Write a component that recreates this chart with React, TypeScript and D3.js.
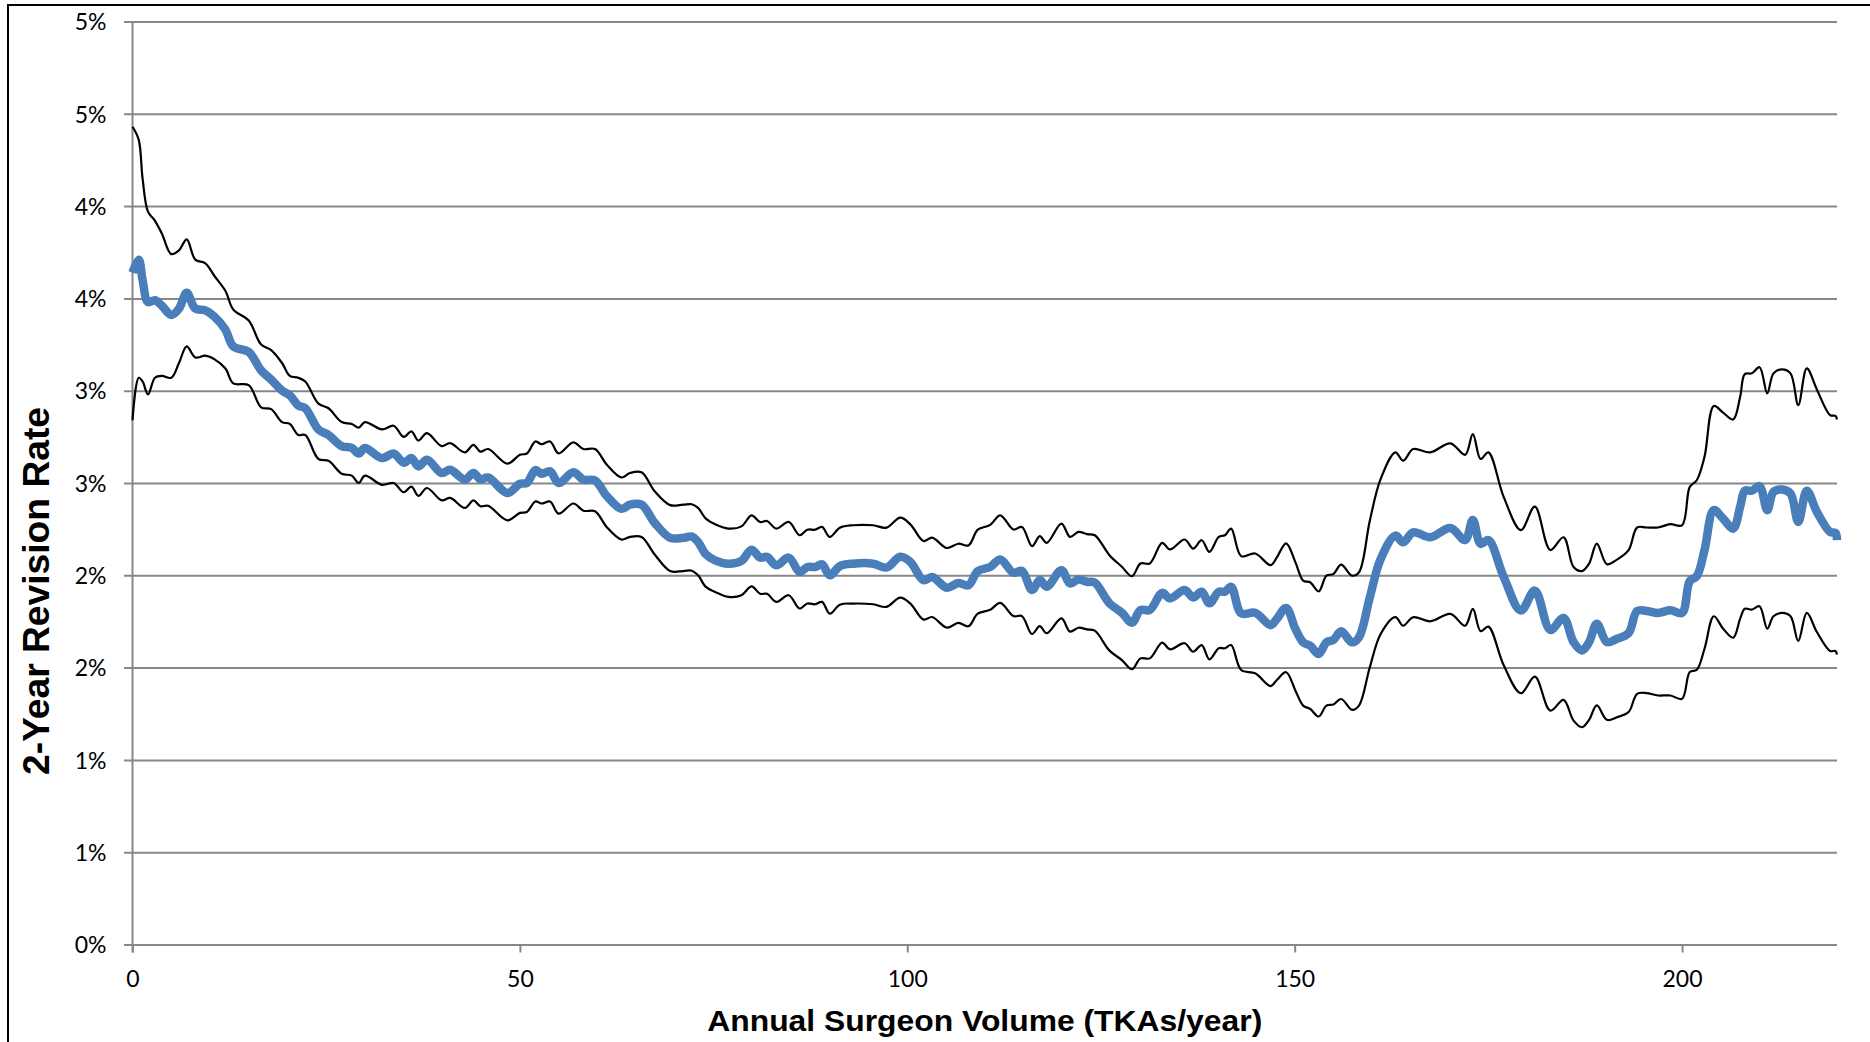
import React, { useEffect, useRef } from 'react';
import * as d3 from 'd3';

// annual surgeon volume (TKAs/year) at each read point
const volume = [
  0, 0.8, 1.3, 2.0, 2.9, 3.8, 5.0, 6.0, 7.0, 8.1,
  9.4, 10.6, 12.0, 13.0, 15.0, 16.6, 17.9, 19.3, 20.3, 21.4,
  22.3, 24.0, 25.3, 27.0, 28.3, 29.2, 30.0, 32.2, 33.7, 35.0,
  36.0, 36.9, 38.0, 39.9, 41.0, 42.9, 44.0, 44.9, 45.9, 48.4,
  50.0, 50.9, 52.0, 52.8, 53.9, 55.0, 56.9, 58.2, 59.7, 61.2,
  63.1, 64.2, 65.7, 67.4, 69.4, 71.1, 72.2, 73.0, 74.0, 75.2,
  76.9, 78.6, 79.9, 81.0, 81.9, 83.1, 84.7, 86.1, 87.1, 88.1,
  89.0, 90.0, 91.3, 93.0, 95.6, 97.3, 99.1, 100.4, 102.1, 103.2,
  105.1, 106.6, 107.9, 109.1, 110.7, 112.0, 113.7, 114.8, 116.1, 117.1,
  118.0, 119.9, 121.0, 122.1, 123.2, 124.2, 126.1, 127.7, 129.0, 130.1,
  131.3, 132.9, 133.9, 135.8, 136.9, 138.0, 139.0, 140.2, 141.0, 141.8,
  143.1, 144.9, 146.9, 147.7, 148.9, 150.1, 151.1, 152.0, 153.1, 154.1,
  155.0, 156.0, 157.4, 158.3, 159.7, 161.1, 163.0, 164.0, 165.3, 167.5,
  170.1, 172.0, 173.0, 174.0, 175.0, 177.0, 179.2, 181.0, 183.0, 184.7,
  186.0, 187.1, 188.0, 189.0, 190.3, 191.6, 193.1, 194.2, 195.4, 196.9,
  198.5, 200.0, 201.0, 201.9, 202.9, 204.1, 205.3, 206.6, 207.5, 208.1,
  209.0, 210.0, 211.0, 211.8, 212.9, 214.0, 215.0, 216.1, 217.4, 219.1,
  219.8, 220.0,
];

// 2-year revision rate, in percent
const upperCI = [
  4.43, 4.36, 4.15, 3.97, 3.92, 3.85, 3.74, 3.76, 3.82, 3.71,
  3.69, 3.62, 3.54, 3.44, 3.38, 3.25, 3.22, 3.15, 3.08, 3.07,
  3.05, 2.93, 2.905, 2.83, 2.82, 2.80, 2.83, 2.79, 2.81, 2.75,
  2.78, 2.73, 2.77, 2.70, 2.716, 2.666, 2.707, 2.67, 2.684, 2.605,
  2.653, 2.66, 2.725, 2.71, 2.725, 2.66, 2.72, 2.684, 2.684, 2.60,
  2.53, 2.554, 2.558, 2.455, 2.38, 2.383, 2.385, 2.365, 2.307, 2.276,
  2.253, 2.265, 2.325, 2.289, 2.294, 2.253, 2.289, 2.217, 2.247, 2.247,
  2.262, 2.208, 2.258, 2.271, 2.271, 2.258, 2.312, 2.276, 2.186, 2.204,
  2.148, 2.171, 2.162, 2.247, 2.273, 2.325, 2.248, 2.262, 2.158, 2.212,
  2.176, 2.28, 2.208, 2.235, 2.223, 2.217, 2.109, 2.046, 1.995, 2.064,
  2.064, 2.176, 2.14, 2.194, 2.145, 2.19, 2.127, 2.208, 2.217, 2.253,
  2.104, 2.118, 2.055, 2.097, 2.173, 2.07, 1.971, 1.962, 1.913, 1.998,
  2.007, 2.058, 1.998, 2.016, 2.296, 2.522, 2.666, 2.621, 2.684, 2.666,
  2.715, 2.653, 2.765, 2.63, 2.666, 2.422, 2.245, 2.372, 2.137, 2.206,
  2.045, 2.023, 2.063, 2.172, 2.06, 2.085, 2.136, 2.259, 2.259, 2.259,
  2.277, 2.271, 2.479, 2.515, 2.642, 2.917, 2.881, 2.844, 2.967, 3.09,
  3.094, 3.127, 2.986, 3.094, 3.116, 3.094, 2.922, 3.121, 3.007, 2.868,
  2.863, 2.844,
];

const revisionRate = [
  3.64, 3.71, 3.60, 3.48, 3.49, 3.46, 3.41, 3.445, 3.53, 3.445,
  3.435, 3.40, 3.33, 3.24, 3.21, 3.11, 3.06, 3.00, 2.975, 2.92,
  2.905, 2.79, 2.76, 2.70, 2.69, 2.66, 2.69, 2.635, 2.66, 2.61,
  2.635, 2.59, 2.626, 2.554, 2.572, 2.518, 2.554, 2.52, 2.53, 2.446,
  2.496, 2.50, 2.57, 2.55, 2.563, 2.50, 2.558, 2.518, 2.514, 2.43,
  2.36, 2.383, 2.383, 2.284, 2.203, 2.203, 2.21, 2.18, 2.114, 2.081,
  2.063, 2.078, 2.139, 2.096, 2.10, 2.054, 2.096, 2.018, 2.045, 2.045,
  2.06, 2.0, 2.05, 2.063, 2.063, 2.042, 2.10, 2.072, 1.973, 1.991,
  1.933, 1.958, 1.946, 2.023, 2.045, 2.086, 2.014, 2.024, 1.92, 1.974,
  1.938, 2.028, 1.956, 1.977, 1.965, 1.96, 1.848, 1.797, 1.743, 1.812,
  1.812, 1.905, 1.875, 1.92, 1.88, 1.911, 1.848, 1.911, 1.911, 1.938,
  1.794, 1.797, 1.73, 1.764, 1.823, 1.709, 1.637, 1.619, 1.574, 1.637,
  1.65, 1.697, 1.637, 1.664, 1.881, 2.088, 2.215, 2.179, 2.233, 2.206,
  2.256, 2.191, 2.30, 2.17, 2.191, 1.989, 1.809, 1.917, 1.704, 1.769,
  1.638, 1.593, 1.638, 1.738, 1.638, 1.656, 1.687, 1.807, 1.807, 1.796,
  1.81, 1.796, 1.969, 1.995, 2.136, 2.353, 2.307, 2.253, 2.371, 2.458,
  2.458, 2.483, 2.353, 2.452, 2.465, 2.443, 2.289, 2.458, 2.344, 2.235,
  2.23, 2.19,
];

const lowerCI = [
  2.84, 3.07, 3.05, 2.98, 3.07, 3.08, 3.07, 3.15, 3.24, 3.18,
  3.19, 3.17, 3.12, 3.04, 3.03, 2.91, 2.90, 2.83, 2.82, 2.76,
  2.76, 2.63, 2.62, 2.55, 2.54, 2.50, 2.54, 2.49, 2.50, 2.45,
  2.48, 2.43, 2.473, 2.406, 2.419, 2.365, 2.406, 2.374, 2.377, 2.298,
  2.338, 2.343, 2.40, 2.389, 2.40, 2.334, 2.389, 2.35, 2.347, 2.262,
  2.194, 2.208, 2.208, 2.113, 2.023, 2.023, 2.025, 2.0, 1.937, 1.91,
  1.883, 1.892, 1.94, 1.90, 1.90, 1.856, 1.892, 1.82, 1.847, 1.843,
  1.856, 1.792, 1.841, 1.847, 1.843, 1.829, 1.879, 1.847, 1.76, 1.774,
  1.717, 1.742, 1.724, 1.792, 1.813, 1.851, 1.779, 1.779, 1.682, 1.725,
  1.686, 1.767, 1.695, 1.716, 1.707, 1.70, 1.592, 1.541, 1.491, 1.55,
  1.55, 1.635, 1.599, 1.632, 1.586, 1.622, 1.545, 1.605, 1.605, 1.622,
  1.487, 1.469, 1.40, 1.433, 1.475, 1.375, 1.294, 1.276, 1.235, 1.294,
  1.30, 1.33, 1.271, 1.294, 1.502, 1.682, 1.773, 1.727, 1.773, 1.751,
  1.791, 1.727, 1.818, 1.697, 1.722, 1.511, 1.361, 1.451, 1.267, 1.325,
  1.213, 1.177, 1.217, 1.295, 1.217, 1.231, 1.259, 1.358, 1.362, 1.349,
  1.349, 1.331, 1.476, 1.488, 1.602, 1.778, 1.711, 1.662, 1.765, 1.819,
  1.814, 1.832, 1.711, 1.778, 1.796, 1.778, 1.644, 1.796, 1.693, 1.59,
  1.59, 1.571,
];

const xTicks = [0, 50, 100, 150, 200];
const yTicks = [0, 0.5, 1, 1.5, 2, 2.5, 3, 3.5, 4, 4.5, 5];
const yTickLabels = ['0%', '1%', '1%', '2%', '2%', '3%', '3%', '4%', '4%', '5%', '5%'];

const App = () => {
  const svgRef = useRef<SVGSVGElement>(null);

  useEffect(() => {
    const svg = d3.select(svgRef.current);
    svg.selectAll('*').remove();

    const width = 1870;
    const height = 1042;
    const plot = { left: 132.5, right: 1837, top: 21.5, bottom: 944.5 };
    const gridColor = '#888888';
    const labelFont = 'Lato, "Open Sans", sans-serif';
    const titleFont = '"Liberation Sans", Arial, sans-serif';

    const x = d3.scaleLinear().domain([0, 220]).range([plot.left, plot.right]);
    const y = d3.scaleLinear().domain([0, 5]).range([plot.bottom, plot.top]);

    // outer chart frame (right and bottom edges fall off the picture)
    svg.append('rect')
      .attr('x', 8)
      .attr('y', 5)
      .attr('width', width)
      .attr('height', height)
      .attr('fill', 'none')
      .attr('stroke', '#000')
      .attr('stroke-width', 2);

    // y axis: gridlines that start at the tick mark
    const tickLen = 8.5;
    const yAxis = d3.axisLeft(y)
      .tickValues(yTicks)
      .tickFormat((d, i) => yTickLabels[i])
      .tickSize(-(plot.right - plot.left + tickLen))
      .tickPadding(17.5);

    const gy = svg.append('g')
      .attr('transform', `translate(${plot.left - tickLen},0)`)
      .call(yAxis);
    gy.select('.domain').remove();
    gy.selectAll('line').attr('stroke', gridColor).attr('stroke-width', 2);
    gy.selectAll('text')
      .attr('dy', '0.36em')
      .style('font-family', labelFont)
      .style('font-size', '23px')
      .attr('fill', '#000');

    // x axis
    const xAxis = d3.axisBottom(x)
      .tickValues(xTicks)
      .tickFormat(d3.format('d'))
      .tickSize(8)
      .tickPadding(18);

    const gx = svg.append('g')
      .attr('transform', `translate(0,${plot.bottom})`)
      .call(xAxis);
    gx.select('.domain').remove();
    gx.selectAll('line').attr('stroke', gridColor).attr('stroke-width', 2);
    gx.selectAll('text')
      .style('font-family', labelFont)
      .style('font-size', '23px')
      .attr('fill', '#000');

    // vertical axis line
    svg.append('line')
      .attr('x1', plot.left)
      .attr('x2', plot.left)
      .attr('y1', plot.top)
      .attr('y2', plot.bottom + 8)
      .attr('stroke', gridColor)
      .attr('stroke-width', 2);

    const line = d3.line<number>()
      .x((d, i) => x(volume[i]))
      .y(d => y(d))
      .curve(d3.curveCatmullRom.alpha(0.5));

    [upperCI, lowerCI].forEach(series => {
      svg.append('path')
        .datum(series)
        .attr('d', line)
        .attr('fill', 'none')
        .attr('stroke', '#000')
        .attr('stroke-width', 2.2)
        .attr('stroke-linejoin', 'round');
    });

    svg.append('path')
      .datum(revisionRate)
      .attr('d', line)
      .attr('fill', 'none')
      .attr('stroke', '#4a7ebb')
      .attr('stroke-width', 8.5)
      .attr('stroke-linejoin', 'round')
      .attr('stroke-linecap', 'butt');

    // axis titles
    svg.append('text')
      .attr('transform', `translate(49,591) rotate(-90)`)
      .attr('text-anchor', 'middle')
      .attr('textLength', 368)
      .attr('lengthAdjust', 'spacingAndGlyphs')
      .text('2-Year Revision Rate')
      .style('font-family', titleFont)
      .style('font-size', '37px')
      .style('font-weight', 'bold');

    svg.append('text')
      .attr('x', (plot.left + plot.right) / 2)
      .attr('y', 1031)
      .attr('text-anchor', 'middle')
      .attr('textLength', 555)
      .attr('lengthAdjust', 'spacingAndGlyphs')
      .text('Annual Surgeon Volume (TKAs/year)')
      .style('font-family', titleFont)
      .style('font-size', '29px')
      .style('font-weight', 'bold');
  }, []);

  return (
    <svg
      ref={svgRef}
      width={1870}
      height={1042}
      style={{ position: 'absolute', left: 0, top: 0, background: '#fff' }}
    />
  );
};

export default App;
